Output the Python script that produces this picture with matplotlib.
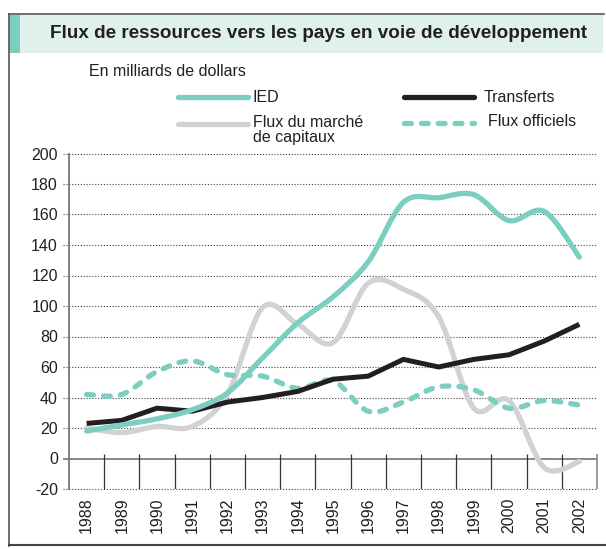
import numpy as np
import matplotlib.pyplot as plt
from matplotlib.path import Path
from matplotlib.patches import PathPatch, Rectangle
from matplotlib.lines import Line2D

plt.rcParams['font.family'] = ['Liberation Sans', 'DejaVu Sans']

years = list(range(1988, 2003))
ied = [18, 22, 26, 32, 43, 66, 89, 106, 129, 168, 171, 173, 156, 162, 132]
transferts = [23, 25, 33, 31, 37, 40, 44, 52, 54, 65, 60, 65, 68, 77, 88]
marche = [20, 17, 21, 21, 42, 99, 88, 76, 115, 111, 93, 33, 38, -6, -2]
officiels = [42, 42, 57, 64, 55, 54, 46, 51, 31, 37, 47, 45, 33, 38, 35]
yticks = list(range(-20, 201, 20))

title = "Flux de ressources vers les pays en voie de développement"
unit = "En milliards de dollars"

teal = '#7ccfc0'
grey = '#d2d2d2'
black = '#231f20'

W, H = 606, 549


def fx(x):
    return x / W


def fy(y):
    return 1 - y / H


def smooth(xs, ys, t=1 / 6):
    # curve through every point (cubic bezier segments)
    n = len(xs)
    verts = [(xs[0], ys[0])]
    codes = [Path.MOVETO]
    for i in range(n - 1):
        a = max(i - 1, 0)
        b = min(i + 2, n - 1)
        c1 = (xs[i] + (xs[i + 1] - xs[a]) * t, ys[i] + (ys[i + 1] - ys[a]) * t)
        c2 = (xs[i + 1] - (xs[b] - xs[i]) * t, ys[i + 1] - (ys[b] - ys[i]) * t)
        verts += [c1, c2, (xs[i + 1], ys[i + 1])]
        codes += [Path.CURVE4] * 3
    return Path(verts, codes)


fig = plt.figure(figsize=(W / 100, H / 100), dpi=100)

# frame and title band
fig.add_artist(Rectangle((fx(9), fy(53)), fx(594), 38 / H, transform=fig.transFigure,
                         fc='#e0f1ed', ec='none'))
fig.add_artist(Rectangle((fx(9), fy(53)), fx(11), 38 / H, transform=fig.transFigure,
                         fc=teal, ec='none'))
fig.add_artist(Line2D([fx(9), fx(604)], [fy(14), fy(14)], transform=fig.transFigure,
                      color='#555555', lw=1.2))
fig.add_artist(Line2D([fx(9), fx(9)], [fy(14), fy(546)], transform=fig.transFigure,
                      color='#555555', lw=1.2))
fig.add_artist(Line2D([fx(9), fx(606)], [fy(545), fy(545)], transform=fig.transFigure,
                      color='#444444', lw=1.5))
fig.text(fx(318), fy(33), title, ha='center', va='center', fontsize=13.6, fontweight='bold',
         color='#231f20')
fig.text(fx(89), fy(72), unit, ha='left', va='center', fontsize=11.5, color='#231f20')

# legend
leg = [
    (178, 97, teal, '-', 'IED', 252, 97),
    (404, 97, black, '-', 'Transferts', 484, 97),
    (178, 124, grey, '-', 'Flux du marché\nde capitaux', 253, 130),
    (404, 123, teal, (0, (1.3, 1.9)), 'Flux officiels', 488, 121),
]
for x0, y0, c, ls, lab, tx, ty in leg:
    fig.add_artist(Line2D([fx(x0), fx(x0 + 70)], [fy(y0), fy(y0)], transform=fig.transFigure,
                          color=c, lw=3.8, ls=ls, solid_capstyle='round', dash_capstyle='round'))
    fig.text(fx(tx), fy(ty), lab, ha='left', va='center', fontsize=11.5, color='#231f20',
             linespacing=0.95)

ax = fig.add_axes([fx(69), fy(489), 528 / W, 335.5 / H])
ax.set_xlim(1987.5, 2002.5)
ax.set_ylim(-20, 200)
for s in ['top', 'right', 'bottom']:
    ax.spines[s].set_visible(False)
ax.spines['left'].set_color('#777777')
ax.spines['left'].set_linewidth(1.3)

ax.hlines([v for v in yticks if v != 0], -0.012, 1, transform=ax.get_yaxis_transform(),
          colors='#444444', lw=0.8, linestyles=(0, (1, 1.6)), clip_on=False, zorder=1)
ax.hlines([0], -0.012, 1, transform=ax.get_yaxis_transform(), colors='#888888', lw=1.4,
          clip_on=False, zorder=1)
bounds = [y + 0.5 for y in years]
ax.vlines(bounds[:-1], -20, 3, colors='#333333', lw=0.9, zorder=1)
ax.vlines(bounds[-1:], -20, 3, colors='#888888', lw=1.2, zorder=1, clip_on=False)

ax.set_yticks(yticks)
ax.set_yticklabels([str(v) for v in yticks])
ax.set_xticks(years)
ax.set_xticklabels([str(y) for y in years], rotation=90)
ax.tick_params(axis='y', length=0, pad=8, labelsize=11.5, labelcolor='#231f20')
ax.tick_params(axis='x', length=0, pad=6, labelsize=11.5, labelcolor='#231f20')

ax.add_patch(PathPatch(smooth(years, marche), fill=False, ec=grey, lw=3.8,
                       capstyle='round', joinstyle='round', zorder=3))
ax.add_patch(PathPatch(smooth(years, officiels), fill=False, ec=teal, lw=3.8,
                       ls=(0, (1.3, 1.9)), capstyle='round', joinstyle='round', zorder=4))
ax.plot(years, transferts, color=black, lw=3.6, solid_capstyle='butt',
        solid_joinstyle='round', zorder=5)
ax.add_patch(PathPatch(smooth(years, ied), fill=False, ec=teal, lw=3.8,
                       capstyle='round', joinstyle='round', zorder=6))

fig.savefig('out.png', dpi=100)
